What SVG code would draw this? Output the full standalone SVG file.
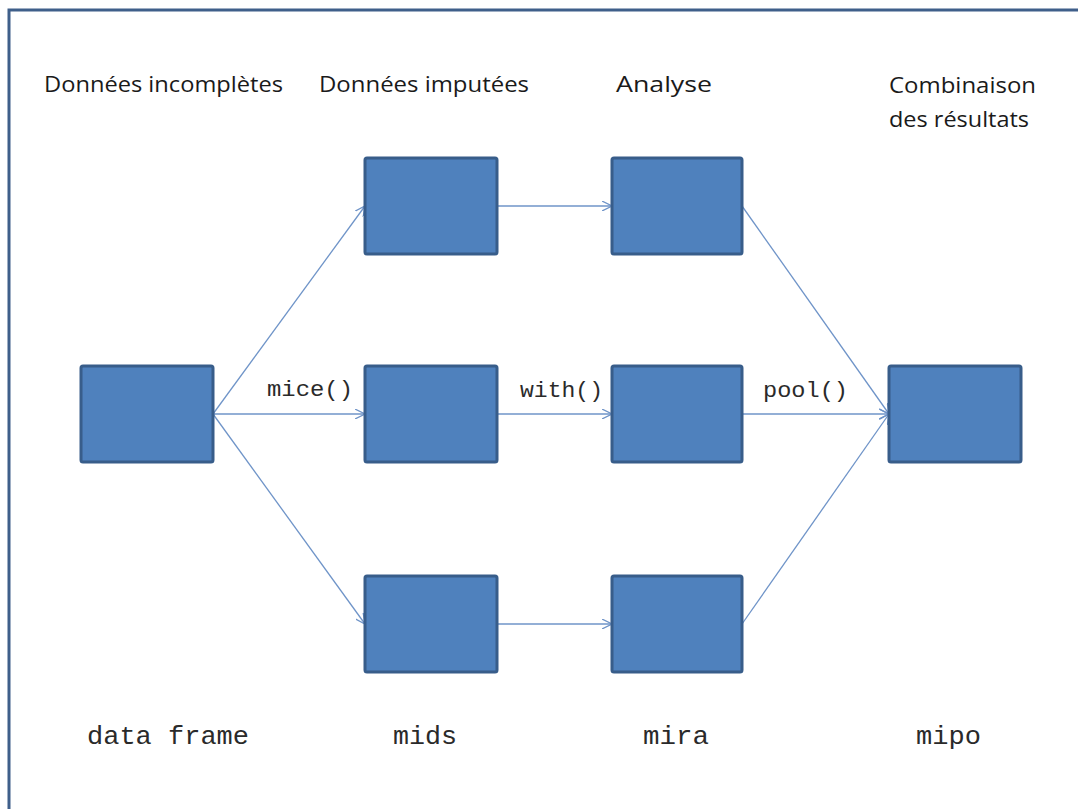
<svg xmlns="http://www.w3.org/2000/svg" width="1078" height="809" viewBox="0 0 1078 809">
<defs>
<style>
.node{fill:#4F81BD;stroke:#385D8A;stroke-width:3}
.edge{fill:none;stroke:#6F94C8;stroke-width:1.3;marker-end:url(#ah)}
.hd{font-family:"Open Sans","Liberation Sans",sans-serif;font-size:22px;fill:#1a1a1a}
.fn{font-family:"Liberation Mono","DejaVu Sans Mono",monospace;font-size:22px;fill:#2a2a2a}
.ty{font-family:"Liberation Mono","DejaVu Sans Mono",monospace;font-size:26px;fill:#2a2a2a}
</style>
<marker id="ah" viewBox="0 0 10 10" refX="10" refY="5" markerWidth="10" markerHeight="10" markerUnits="userSpaceOnUse" orient="auto">
<path d="M0,0 L10,5 L0,10" fill="none" stroke="#6F94C8" stroke-width="1.3"/>
</marker>
</defs>
<rect width="1078" height="809" fill="#ffffff"/>
<path d="M9,809 V10 H1078" fill="none" stroke="#3F5F8A" stroke-width="3"/>
<g id="headers">
<text class="hd" x="44" y="92" textLength="239" lengthAdjust="spacingAndGlyphs">Données incomplètes</text>
<text class="hd" x="319" y="92" textLength="210" lengthAdjust="spacingAndGlyphs">Données imputées</text>
<text class="hd" x="616" y="92" textLength="96" lengthAdjust="spacingAndGlyphs">Analyse</text>
<text class="hd" x="889" y="93" textLength="147" lengthAdjust="spacingAndGlyphs">Combinaison</text>
<text class="hd" x="889" y="127" textLength="140" lengthAdjust="spacingAndGlyphs">des résultats</text>
</g>
<g id="connectors">
<line class="edge" x1="213" y1="414" x2="365" y2="206"/>
<line class="edge" x1="213" y1="414" x2="365" y2="414"/>
<line class="edge" x1="213" y1="414" x2="365" y2="624"/>
<line class="edge" x1="497" y1="206" x2="612" y2="206"/>
<line class="edge" x1="497" y1="414" x2="612" y2="414"/>
<line class="edge" x1="497" y1="624" x2="612" y2="624"/>
<line class="edge" x1="742" y1="206" x2="889" y2="414"/>
<line class="edge" x1="742" y1="414" x2="889" y2="414"/>
<line class="edge" x1="742" y1="624" x2="889" y2="414"/>
<text class="fn" x="267" y="396" textLength="86" lengthAdjust="spacingAndGlyphs">mice()</text>
<text class="fn" x="520" y="397" textLength="83" lengthAdjust="spacingAndGlyphs">with()</text>
<text class="fn" x="763" y="397" textLength="85" lengthAdjust="spacingAndGlyphs">pool()</text>
</g>
<g id="n-df"><rect class="node" x="81" y="366" width="132" height="96" rx="2"/></g>
<g id="n-imp1"><rect class="node" x="365" y="158" width="132" height="96" rx="2"/></g>
<g id="n-imp2"><rect class="node" x="365" y="366" width="132" height="96" rx="2"/></g>
<g id="n-imp3"><rect class="node" x="365" y="576" width="132" height="96" rx="2"/></g>
<g id="n-an1"><rect class="node" x="612" y="158" width="130" height="96" rx="2"/></g>
<g id="n-an2"><rect class="node" x="612" y="366" width="130" height="96" rx="2"/></g>
<g id="n-an3"><rect class="node" x="612" y="576" width="130" height="96" rx="2"/></g>
<g id="n-pool"><rect class="node" x="889" y="366" width="132" height="96" rx="2"/></g>
<g id="types">
<text class="ty" x="87" y="744" textLength="162" lengthAdjust="spacingAndGlyphs">data frame</text>
<text class="ty" x="393" y="744" textLength="64" lengthAdjust="spacingAndGlyphs">mids</text>
<text class="ty" x="643" y="744" textLength="66" lengthAdjust="spacingAndGlyphs">mira</text>
<text class="ty" x="916" y="744" textLength="65" lengthAdjust="spacingAndGlyphs">mipo</text>
</g>
</svg>
